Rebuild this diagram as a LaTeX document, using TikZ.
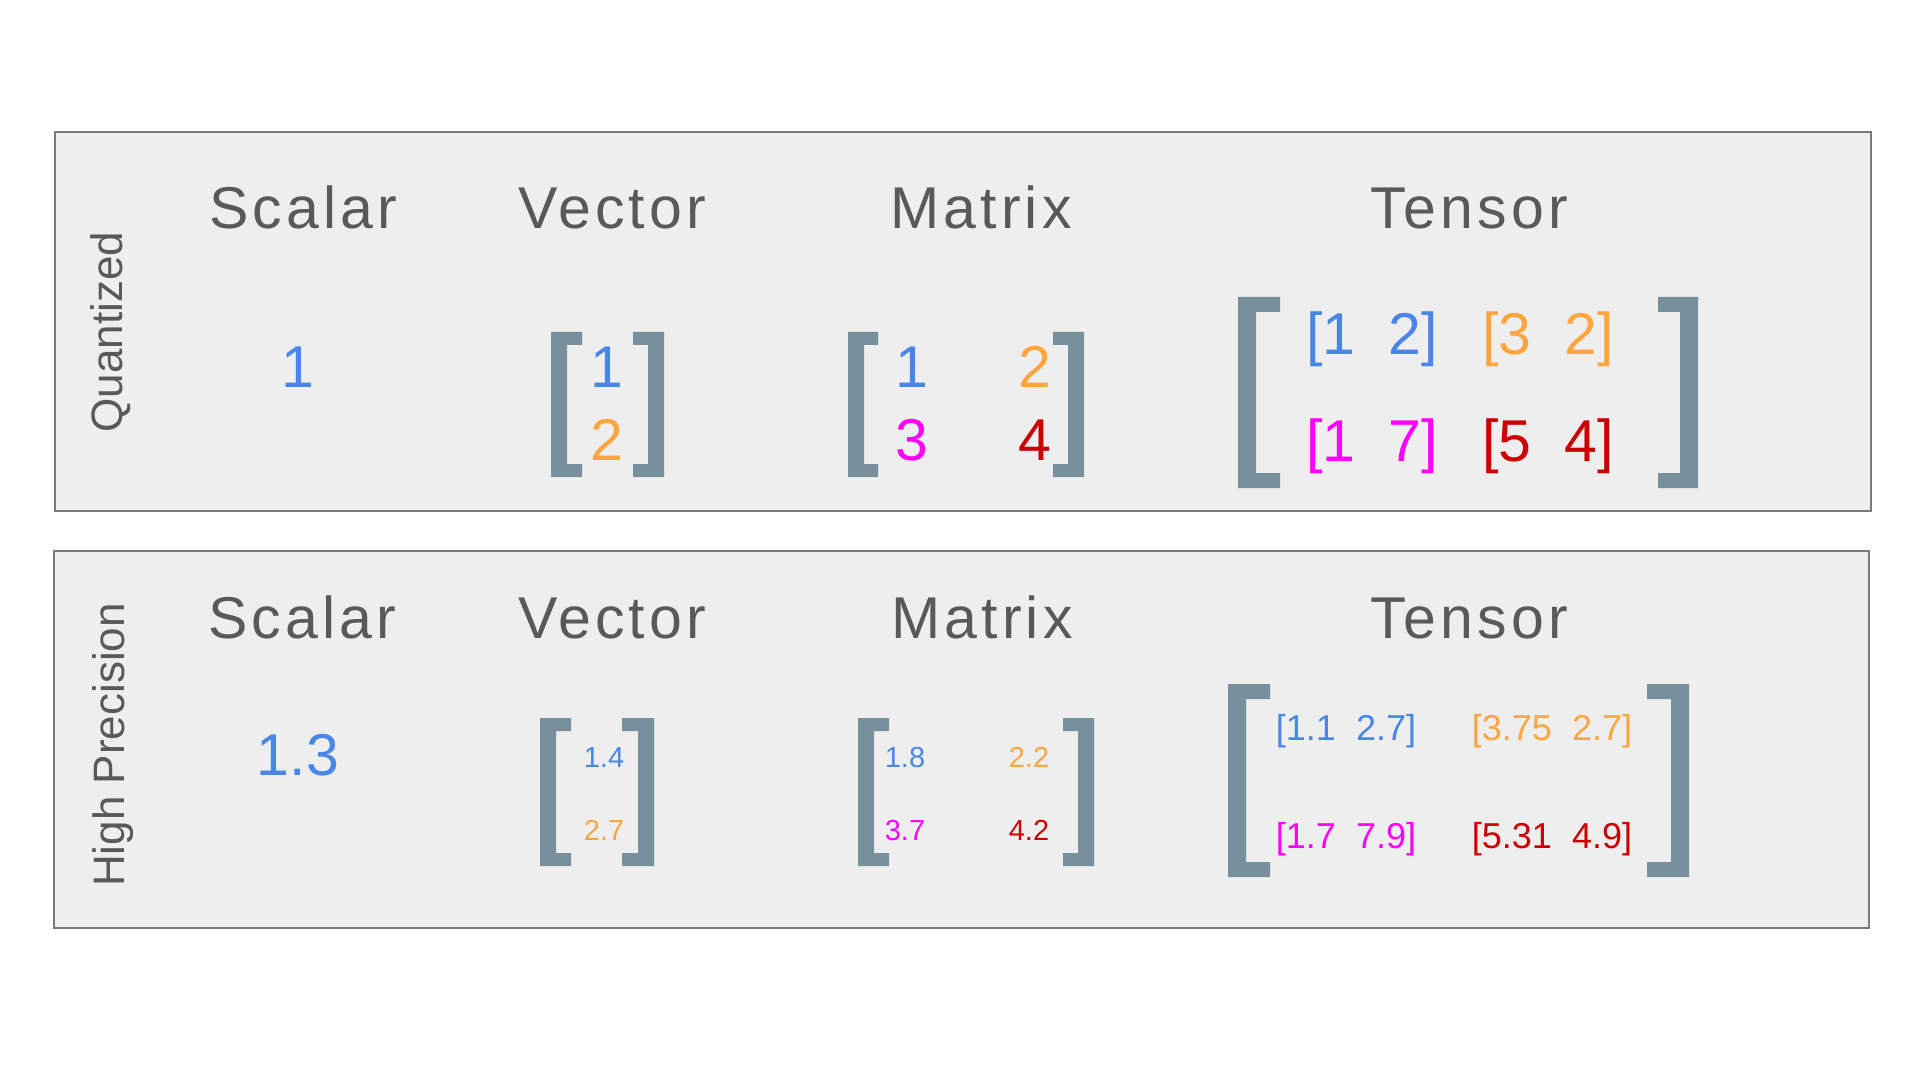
\documentclass[tikz,border=0pt]{standalone}
\usepackage{fontspec}
\setmainfont{Liberation Sans}
\newfontfamily\hdrfont[LetterSpace=7]{Liberation Sans}
\definecolor{hdrgray}{HTML}{595959}
\definecolor{panelgray}{HTML}{EEEEEE}
\definecolor{bordergray}{HTML}{7A7A7A}
\definecolor{brkgray}{HTML}{78909C}
\definecolor{cblue}{HTML}{4A86E8}
\definecolor{corange}{HTML}{FFA53F}
\definecolor{cmag}{HTML}{FF00FF}
\definecolor{cred}{HTML}{CC0000}
% left bracket: x1, x2, y1, y2, bar width, arm thickness
\newcommand\lbrk[6]{\fill[brkgray] (#1,#3) -- (#2,#3) -- (#2,#3+#6) -- (#1+#5,#3+#6) -- (#1+#5,#4-#6) -- (#2,#4-#6) -- (#2,#4) -- (#1,#4) -- cycle;}
\newcommand\rbrk[6]{\fill[brkgray] (#2,#3) -- (#1,#3) -- (#1,#3+#6) -- (#2-#5,#3+#6) -- (#2-#5,#4-#6) -- (#1,#4-#6) -- (#1,#4) -- (#2,#4) -- cycle;}
\newcommand\gap{\hspace{0.56em}}
\begin{document}
\begin{tikzpicture}[x=0.5pt,y=-0.5pt,
  panel/.style={fill=panelgray, draw=bordergray, line width=1pt},
  hdr/.style={font=\hdrfont\fontsize{29.5}{34}\selectfont, text=hdrgray, anchor=base, inner sep=0pt},
  side/.style={font=\fontsize{22}{26}\selectfont, text=hdrgray, rotate=90, anchor=base, inner sep=0pt},
  big/.style={font=\fontsize{29.5}{34}\selectfont, anchor=base, inner sep=0pt},
  mid/.style={font=\fontsize{18}{21}\selectfont, anchor=base, inner sep=0pt},
  small/.style={font=\fontsize{14.5}{17}\selectfont, anchor=base, inner sep=0pt}]
\useasboundingbox (0,0) rectangle (1920,1080);
\fill[white] (0,0) rectangle (1920,1080);
% panels
\draw[panel] (55,132) rectangle (1871,511);
\draw[panel] (54,551) rectangle (1869,928);
% side labels
\node[side] (q) at (122,332) {Quantized};
\node[side] (hp) at (124,745) {High Precision};
% headers top
\node[hdr] (s1) at (303,229) {Scalar};
\node[hdr] (v1) at (612,229) {Vector};
\node[hdr] (m1) at (981,229) {Matrix};
\node[hdr] (t1) at (1469,229) {Tensor};
% headers bottom
\node[hdr] (s2) at (302,638) {Scalar};
\node[hdr] (v2) at (612,638) {Vector};
\node[hdr] (m2) at (982,638) {Matrix};
\node[hdr] (t2) at (1469,638) {Tensor};
% ---- top content
\node[big,text=cblue] (qs) at (298,387) {1};
\lbrk{551}{582}{332}{477}{16}{13}
\rbrk{633}{664}{332}{477}{16}{13}
\node[big,text=cblue] (qv1) at (607,387) {1};
\node[big,text=corange] (qv2) at (607,460) {2};
\lbrk{848}{878}{332}{477}{16}{13}
\rbrk{1053}{1084}{332}{477}{16}{13}
\node[big,text=cblue] (qm11) at (912,387) {1};
\node[big,text=corange] (qm12) at (1035,387) {2};
\node[big,text=cmag] (qm21) at (912,460) {3};
\node[big,text=cred] (qm22) at (1035,460) {4};
\lbrk{1238}{1280}{297}{488}{18}{15}
\rbrk{1658}{1698}{297}{488}{18}{15}
\node[big,text=cblue] (qt11) at (1372,355) {[1\gap2]};
\node[big,text=corange] (qt12) at (1548,355) {[3\gap2]};
\node[big,text=cmag] (qt21) at (1372,461) {[1\gap7]};
\node[big,text=cred] (qt22) at (1548,461) {[5\gap4]};
% ---- bottom content
\node[big,text=cblue] (hs) at (298,775) {1.3};
\lbrk{540}{571}{718}{866}{16}{13}
\rbrk{622}{654}{718}{866}{16}{13}
\node[small,text=cblue] (hv1) at (604,767) {1.4};
\node[small,text=corange] (hv2) at (604,840) {2.7};
\lbrk{858}{889}{718}{866}{16}{13}
\rbrk{1063}{1094}{718}{866}{16}{13}
\node[small,text=cblue] (hm11) at (905,767) {1.8};
\node[small,text=corange] (hm12) at (1029,767) {2.2};
\node[small,text=cmag] (hm21) at (905,840) {3.7};
\node[small,text=cred] (hm22) at (1029,840) {4.2};
\lbrk{1228}{1270}{684}{877}{18}{15}
\rbrk{1647}{1689}{684}{877}{18}{15}
\node[mid,text=cblue] (ht11) at (1346,740) {[1.1\gap2.7]};
\node[mid,text=corange] (ht12) at (1552,740) {[3.75\gap2.7]};
\node[mid,text=cmag] (ht21) at (1346,848) {[1.7\gap7.9]};
\node[mid,text=cred] (ht22) at (1552,848) {[5.31\gap4.9]};
\end{tikzpicture}
\end{document}
